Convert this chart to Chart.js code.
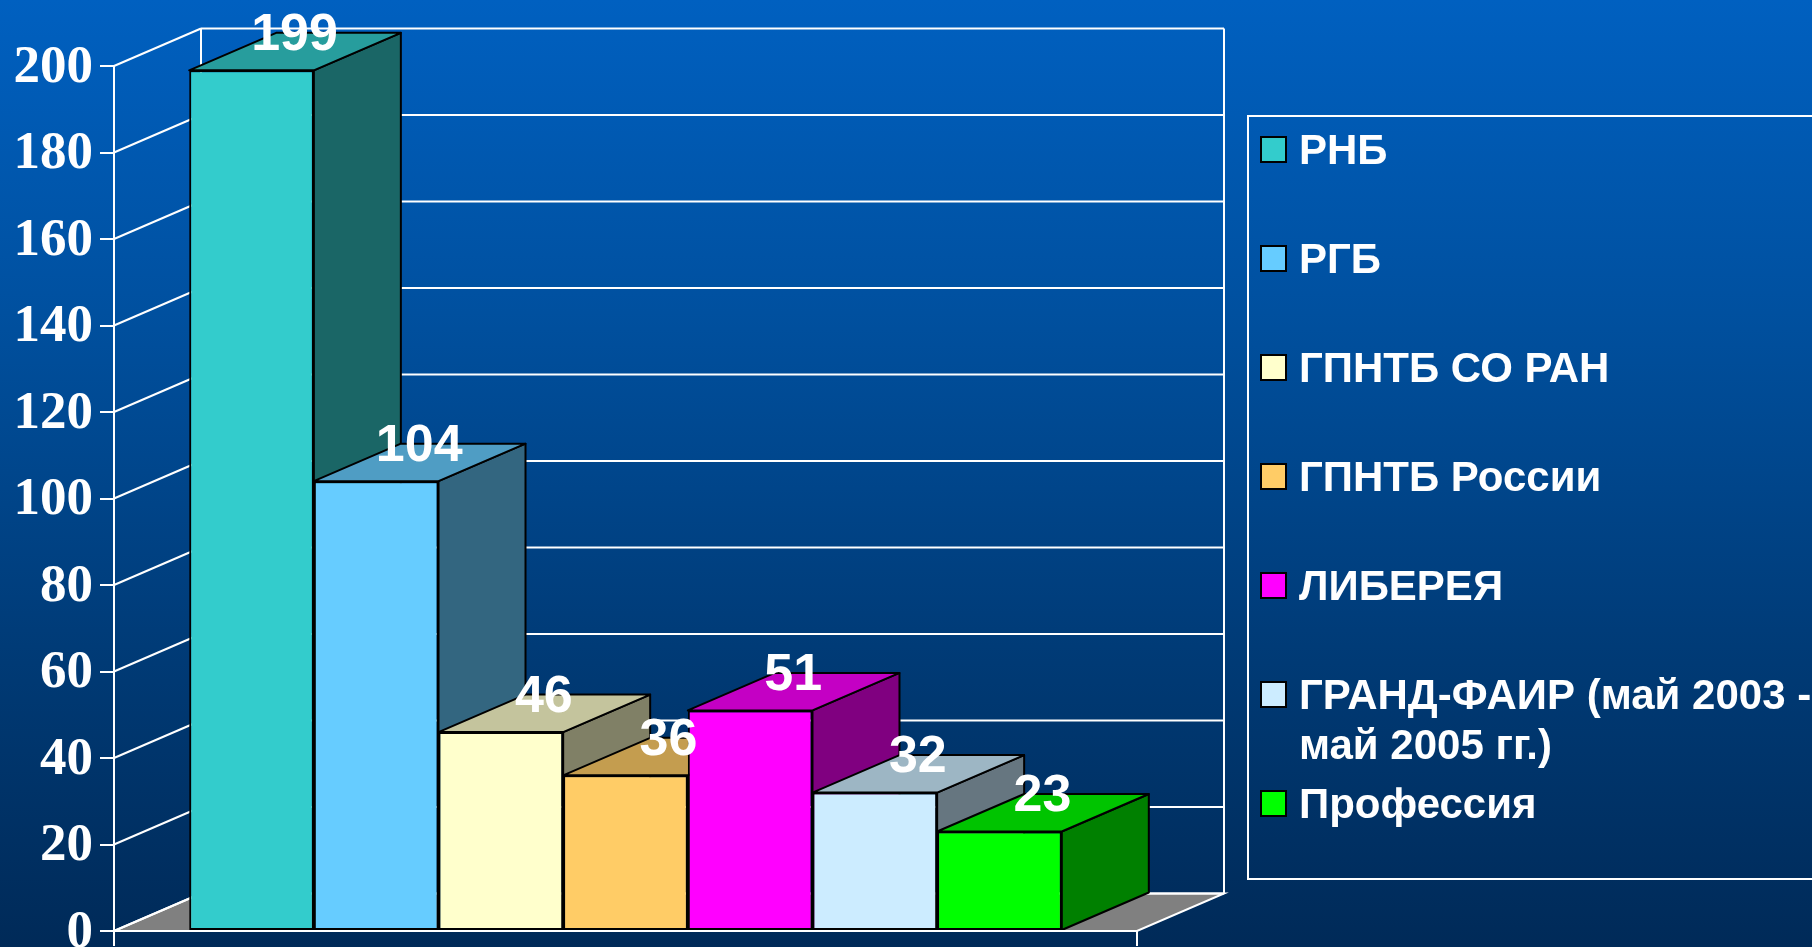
<!DOCTYPE html>
<html lang="ru">

<head>
    <meta charset="UTF-8">
    <title>Библиотеки</title>
    <style>
        html, body { margin: 0; padding: 0; width: 1812px; height: 947px; overflow: hidden; }
        body { background: linear-gradient(to bottom, #0060c0 0%, #00509f 33%, #003a75 70%, #002a58 100%); position: relative; }
        canvas { position: absolute; left: 0; top: 0; }
        #legend { position: absolute; left: 1247px; top: 115px; width: 580px; height: 765px; border: 2px solid #fff; box-sizing: border-box; }
        .row { position: absolute; left: 50px; width: 540px; font: bold 42px/50px "Liberation Sans", Arial, sans-serif; color: #fff; }
        .swatch { position: absolute; left: 11px; width: 27px; height: 27px; border: 2px solid #000; box-sizing: border-box; }
    </style>
</head>

<body>
    <canvas id="myChart" width="1812" height="947"></canvas>
    <div id="legend"></div>

    <script src="https://cdn.jsdelivr.net/npm/chart.js"></script>
    <script>
        const categories = [''];
        const seriesNames = ['РНБ', 'РГБ', 'ГПНТБ СО РАН', 'ГПНТБ России', 'ЛИБЕРЕЯ', 'ГРАНД-ФАИР (май 2003 - май 2005 гг.)', 'Профессия'];
        const seriesValues = [199, 104, 46, 36, 51, 32, 23];
        const seriesColors = ['#33cccc', '#66ccff', '#ffffcc', '#ffcc66', '#ff00ff', '#ccecff', '#00ff00'];
        const yMin = 0;
        const yMax = 200;
        const yStep = 20;

        // how far the 3d boxes and the walls go back
        const depthX = 87;
        const depthY = 37.5;

        function shade(hex, k) {
            const n = parseInt(hex.slice(1), 16);
            const r = Math.round((n >> 16 & 255) * k);
            const g = Math.round((n >> 8 & 255) * k);
            const b = Math.round((n & 255) * k);
            return 'rgb(' + r + ',' + g + ',' + b + ')';
        }

        function poly(ctx, pts, fill, stroke) {
            ctx.beginPath();
            ctx.moveTo(pts[0][0], pts[0][1]);
            for (let i = 1; i < pts.length; i++) ctx.lineTo(pts[i][0], pts[i][1]);
            ctx.closePath();
            if (fill) { ctx.fillStyle = fill; ctx.fill(); }
            if (stroke) { ctx.strokeStyle = stroke; ctx.lineWidth = 2; ctx.stroke(); }
        }

        function line(ctx, x1, y1, x2, y2) {
            ctx.beginPath();
            ctx.moveTo(x1, y1);
            ctx.lineTo(x2, y2);
            ctx.stroke();
        }

        // side and top of a box, the front is the bar itself
        function drawBox(chart, i) {
            const ctx = chart.ctx;
            const meta = chart.getDatasetMeta(i);
            const bar = meta.data[0];
            const color = seriesColors[i];
            const x1 = bar.x - bar.width / 2;
            const x2 = bar.x + bar.width / 2;
            ctx.save();
            ctx.lineJoin = 'round';
            poly(ctx, [[x2, bar.y], [x2 + depthX, bar.y - depthY], [x2 + depthX, bar.base - depthY], [x2, bar.base]], shade(color, 0.5), '#000');
            poly(ctx, [[x1, bar.y], [x1 + depthX, bar.y - depthY], [x2 + depthX, bar.y - depthY], [x2, bar.y]], shade(color, 0.77), '#000');
            ctx.restore();
            meta.controller.draw();
        }

        const walls = {
            id: 'walls',
            // floor, back wall and side wall, then the boxes from left to right
            beforeDatasetsDraw(chart) {
                const ctx = chart.ctx;
                const y = chart.scales.y;
                const l = chart.chartArea.left;
                const r = chart.chartArea.right;
                const b = y.getPixelForValue(yMin);
                const t = y.getPixelForValue(yMax);
                ctx.save();
                poly(ctx, [[l, b], [l + depthX, b - depthY], [r + depthX, b - depthY], [r, b]], '#808080', '#fff');
                ctx.strokeStyle = '#fff';
                ctx.lineWidth = 2;
                for (let v = yMin; v <= yMax; v += yStep) {
                    const p = y.getPixelForValue(v);
                    line(ctx, l, p, l + depthX, p - depthY);
                    line(ctx, l + depthX, p - depthY, r + depthX, p - depthY);
                }
                line(ctx, l + depthX, t - depthY, l + depthX, b - depthY);
                line(ctx, r + depthX, t - depthY, r + depthX, b - depthY);
                ctx.restore();
                chart.data.datasets.forEach(function(ds, i) {
                    drawBox(chart, i);
                });
            },
            // boxes are already painted above, chart.js would do them right to left
            beforeDatasetDraw() {
                return false;
            },
            afterDatasetsDraw(chart) {
                const ctx = chart.ctx;
                const l = chart.chartArea.left;
                const r = chart.chartArea.right;
                const b = chart.chartArea.bottom;
                ctx.save();
                ctx.strokeStyle = '#fff';
                ctx.lineWidth = 2;
                line(ctx, l, b, l, b + 15);
                line(ctx, r, b, r, b + 15);
                // value labels sit on the back edge of each box
                ctx.fillStyle = '#fff';
                ctx.font = 'bold 52px "Liberation Sans", Arial, sans-serif';
                ctx.textAlign = 'center';
                ctx.textBaseline = 'middle';
                chart.data.datasets.forEach(function(ds, i) {
                    const bar = chart.getDatasetMeta(i).data[0];
                    ctx.fillText(String(ds.data[0]), bar.x + depthX / 2 - 0.5, bar.y - depthY + 3);
                });
                ctx.restore();
            }
        };

        const ctx = document.getElementById('myChart').getContext('2d');
        const myChart = new Chart(ctx, {
            type: 'bar',
            data: {
                labels: categories,
                datasets: seriesNames.map(function(name, i) {
                    return {
                        label: name,
                        data: [seriesValues[i]],
                        backgroundColor: seriesColors[i],
                        borderColor: '#000',
                        borderWidth: 2,
                        borderSkipped: false,
                        categoryPercentage: 0.853,
                        barPercentage: 1
                    };
                })
            },
            plugins: [walls],
            options: {
                responsive: false,
                animation: false,
                layout: { padding: { top: 66, bottom: 16, left: 0, right: 675 } },
                plugins: { legend: { display: false }, tooltip: { enabled: false } },
                scales: {
                    x: {
                        grid: { display: false },
                        border: { display: true, color: '#fff', width: 2, z: 1 },
                        ticks: { display: false },
                        afterFit(s) { s.height = 0; }
                    },
                    y: {
                        min: yMin,
                        max: yMax,
                        grid: { drawOnChartArea: false, drawTicks: true, tickLength: 14, color: '#fff', lineWidth: 2 },
                        border: { display: true, color: '#fff', width: 2 },
                        ticks: {
                            stepSize: yStep,
                            color: '#fff',
                            padding: 7,
                            labelOffset: 2,
                            font: { family: '"Liberation Serif", "Times New Roman", serif', size: 53, weight: 'bold' }
                        },
                        afterFit(s) { s.width = 114; s.paddingTop = 0; s.paddingBottom = 0; }
                    }
                }
            }
        });

        // html legend, rows are evenly spaced and the long one wraps
        const legend = document.getElementById('legend');
        seriesNames.forEach(function(name, i) {
            const center = 34 + i * 109;
            const sw = document.createElement('div');
            sw.className = 'swatch';
            sw.style.top = (center - 15) + 'px';
            sw.style.background = seriesColors[i];
            legend.appendChild(sw);
            const row = document.createElement('div');
            row.className = 'row';
            row.style.top = (center - 26) + 'px';
            row.textContent = name;
            legend.appendChild(row);
        });
    </script>
</body>

</html>
